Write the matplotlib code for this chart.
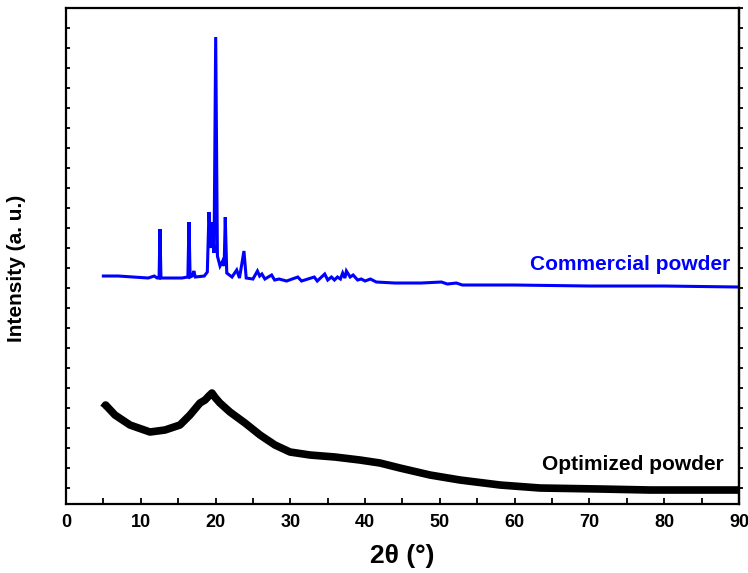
import matplotlib
matplotlib.use("Agg")
import matplotlib.pyplot as plt
from matplotlib.ticker import MultipleLocator, NullFormatter

plt.rcParams['font.family'] = ['Liberation Sans', 'DejaVu Sans']

# commercial powder (blue), 2theta in degrees / intensity in a.u.
tth_comm = [5.0, 7.0, 9.0, 11.0, 11.8, 12.2, 12.45, 12.57, 12.7, 14.0, 15.5,
            16.3, 16.45, 16.6, 16.9, 17.1, 17.3, 18.5, 18.9, 19.12, 19.35,
            19.56, 19.8, 20.02, 20.25, 20.6, 20.95, 21.15, 21.3, 21.5, 22.2,
            22.83, 23.2, 23.8, 24.1, 25.0, 25.6, 25.9, 26.2, 26.6, 27.5,
            27.9, 28.5, 29.5, 31.0, 31.5, 33.2, 33.6, 34.6, 35.0, 35.5, 35.9,
            36.3, 36.7, 37.0, 37.3, 37.5, 38.0, 38.4, 39.0, 39.5, 40.0, 40.7,
            41.5, 44.0, 47.5, 50.2, 51.0, 52.2, 53.0, 60.0, 70.0, 80.0, 90.0]
int_comm = [212, 212, 211, 210, 212, 210, 210, 259, 210, 210, 210,
            211, 266, 211, 212, 217, 211, 212, 216, 276, 240,
            266, 235, 451, 232, 222, 227, 222, 271, 215, 211,
            218, 210, 237, 210, 209, 217, 212, 214, 209, 213,
            208, 209, 207, 211, 207, 211, 207, 214, 208, 211, 208,
            211, 209, 215, 210, 217, 211, 213, 208, 209, 207, 209,
            206, 205, 205, 206, 204, 205, 203, 203, 202, 202, 201]

# optimized powder (black), amorphous hump
tth_opt = [5.0, 5.3, 6.55, 8.56, 11.23, 13.24, 15.24, 16.58, 17.92, 18.6,
           19.1, 19.52, 20.0, 20.59, 21.93, 23.94, 25.95, 27.95, 29.96,
           32.63, 35.97, 39.3, 41.99, 44.66, 48.68, 52.69, 58.04, 63.39,
           71.41, 78.1, 84.78, 90.0]
int_opt = [80, 83, 73, 63, 56, 58, 63, 73, 85, 88,
           92, 95, 90, 85, 76, 65, 53, 43, 36,
           33, 31, 28, 25, 20, 13, 8, 3, 0,
           -1, -2, -2, -2]

xticks = [0, 10, 20, 30, 40, 50, 60, 70, 80, 90]

fig, ax = plt.subplots(figsize=(7.48, 5.73), dpi=100)
fig.subplots_adjust(left=0.0882, right=0.988, bottom=0.1204, top=0.986)

ax.plot(tth_comm, int_comm, color='#0000ff', lw=2.2, solid_joinstyle='miter')
ax.plot(tth_opt, int_opt, color='black', lw=5.5, solid_capstyle='butt')

ax.text(88.8, 224, 'Commercial powder', color='#0000ff', fontsize=15,
        fontweight='bold', ha='right', va='center')
ax.text(87.9, 24, 'Optimized powder', color='black', fontsize=15,
        fontweight='bold', ha='right', va='center')

ax.set_xlim(0, 90)
ax.set_ylim(-16, 480)
ax.set_xticks(xticks)
ax.xaxis.set_minor_locator(MultipleLocator(5))
ax.yaxis.set_major_locator(MultipleLocator(20))
ax.yaxis.set_major_formatter(NullFormatter())
ax.tick_params(axis='x', which='both', direction='in', length=4, width=1.3,
               labelsize=13, pad=7, top=False)
ax.tick_params(axis='y', which='both', direction='in', length=3, width=1.3,
               left=True, right=False)
for lab in ax.get_xticklabels():
    lab.set_fontweight('bold')

# right-hand ticks point outwards
sec = ax.secondary_yaxis('right')
sec.yaxis.set_major_locator(MultipleLocator(20))
sec.yaxis.set_major_formatter(NullFormatter())
sec.tick_params(direction='out', length=3, width=1.3)
sec.spines['right'].set_linewidth(1.6)

for sp in ax.spines.values():
    sp.set_linewidth(1.6)

ax.set_xlabel('2θ (°)', fontsize=19, fontweight='bold')
ax.xaxis.set_label_coords(0.5, -0.08)
ax.set_ylabel('Intensity (a. u.)', fontsize=15, fontweight='bold')
ax.yaxis.label.set_va('center')
ax.yaxis.set_label_coords(-0.074, 0.476)

fig.savefig('out.png', dpi=100)
